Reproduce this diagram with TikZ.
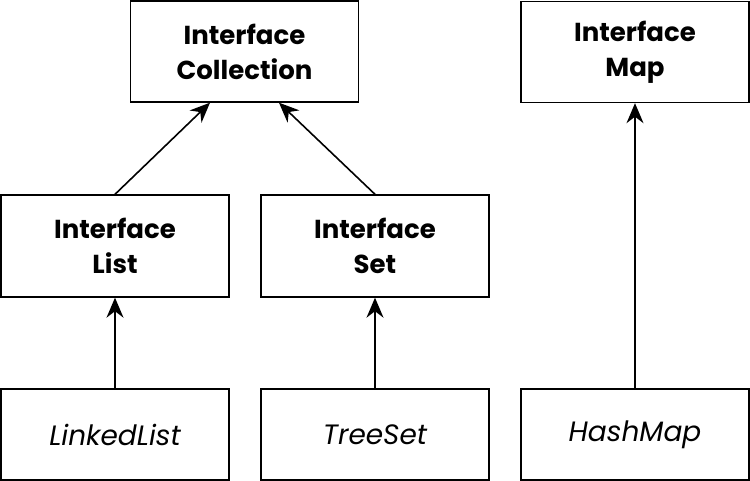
\documentclass[tikz,border=0pt]{standalone}
\usepackage{fontspec}
\setmainfont{Poppins}
\usetikzlibrary{arrows.meta,positioning}
\tikzset{
  ifbox/.style={draw,line width=1.4pt,align=center,minimum width=228pt,minimum height=101pt,
    font=\fontsize{26}{35}\selectfont\bfseries,inner sep=0pt},
  clsbox/.style={ifbox,minimum height=91pt,font=\fontsize{28}{35}\selectfont\itshape},
  inh/.style={-{Stealth[length=20pt,width=17pt]},line width=1.6pt}
}
\begin{document}
\begin{tikzpicture}[x=1pt,y=-1pt]
\useasboundingbox (0,0) rectangle (750,481);
% Interfaces
\node[ifbox] (coll) at (244.5,51.5) {Interface\\Collection};
\node[ifbox] (map) at (635,52) {Interface\\Map};
\node[ifbox,minimum height=102pt] (list) at (115,246) {Interface\\List};
\node[ifbox,minimum height=102pt] (set) at (375,246) {Interface\\Set};
% Classes
\node[clsbox] (llist) at (115,434.5) {LinkedList};
\node[clsbox] (tset) at (375,434.5) {TreeSet};
\node[clsbox] (hmap) at (635,434.5) {HashMap};
% Arrows
\coordinate (collL) at ([xshift=-34.5pt]coll.south);
\coordinate (collR) at ([xshift=34.5pt]coll.south);
\draw[inh] (list.north) -- (collL);
\draw[inh] (set.north) -- (collR);
\draw[inh] (llist) -- (list);
\draw[inh] (tset) -- (set);
\draw[inh] (hmap) -- (map);
\end{tikzpicture}
\end{document}
